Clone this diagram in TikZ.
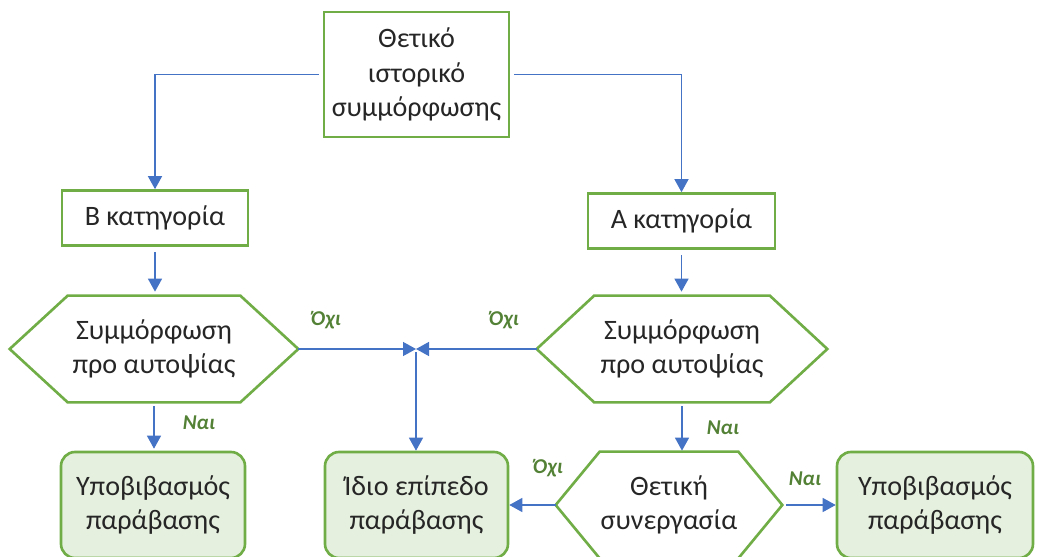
\documentclass[tikz,border=0pt]{standalone}
\usepackage{fontspec}
\setmainfont{Carlito}
\usetikzlibrary{arrows.meta}
\definecolor{frame}{HTML}{70AD47}
\definecolor{leaf}{HTML}{E5F0DE}
\definecolor{flow}{HTML}{4472C4}
\definecolor{answer}{HTML}{538135}
\definecolor{ink}{HTML}{262626}
\newcommand{\hexframe}[2]{%
  \draw[draw = frame, line width = 1.5pt, line join = miter]
    (#1.west) -- ([xshift = #2]#1.north west) -- ([xshift = -#2]#1.north east)
    -- (#1.east) -- ([xshift = -#2]#1.south east) -- ([xshift = #2]#1.south west) -- cycle;}
\begin{document}
\begin{tikzpicture}[x = 0.02cm, y = -0.02cm,
        textbox/.style = {text = ink, align = center, inner sep = 0pt,
            font = \fontsize{16}{19.6}\selectfont},
        box/.style = {textbox, draw = frame, line width = 1.5pt},
        leafbox/.style = {box, fill = leaf, rounded corners = 0.28cm,
            minimum height = 2.12cm},
        flowline/.style = {draw = flow, line width = 0.8pt,
            -{Triangle[width = 0.28cm, length = 0.26cm]}},
        reply/.style = {text = answer, inner sep = 0pt,
            font = \fontsize{12}{14}\selectfont\bfseries\itshape}]
    \useasboundingbox (0,0) rectangle (1038,557);
    % boxes
    \node[box, minimum width = 3.7cm, minimum height = 2.5cm] (history) at (416.5,74.5) {Θετικό\\ιστορικό\\συμμόρφωσης};
    \node[box, minimum width = 3.72cm, minimum height = 1.1cm] (catB) at (155,218) {Β κατηγορία};
    \node[box, minimum width = 3.74cm, minimum height = 1.1cm] (catA) at (681.5,221) {Α κατηγορία};
    \node[textbox, minimum width = 5.76cm, minimum height = 2.12cm] (checkL) at (154,349) {Συμμόρφωση\\προ αυτοψίας};
    \node[textbox, minimum width = 5.8cm, minimum height = 2.12cm] (checkR) at (682,349) {Συμμόρφωση\\προ αυτοψίας};
    \node[textbox, minimum width = 4.52cm, minimum height = 2.12cm] (coop) at (669,505) {Θετική\\συνεργασία};
    \hexframe{checkL}{1.16cm}
    \hexframe{checkR}{1.15cm}
    \hexframe{coop}{0.88cm}
    \node[leafbox, minimum width = 3.68cm] (demoteL) at (153,505) {Υποβιβασμός\\παράβασης};
    \node[leafbox, minimum width = 3.66cm] (same) at (416.5,505) {Ίδιο επίπεδο\\παράβασης};
    \node[leafbox, minimum width = 3.92cm] (demoteR) at (935,505) {Υποβιβασμός\\παράβασης};
    \coordinate (meet) at (416,349);
    % connectors
    \draw[flowline, shorten <= 0.08cm] (history.west) -| (catB.north);
    \draw[flowline, shorten <= 0.08cm] (history.east) -| (catA.north);
    \draw[flowline, shorten <= 0.1cm, shorten >= 0.08cm] (catB.south) -- (catB.south |- checkL.north);
    \draw[flowline, shorten <= 0.1cm, shorten >= 0.08cm] (catA.south) -- (catA.south |- checkR.north);
    \draw[flowline] (checkL.east) -- (meet);
    \draw[flowline] (checkR.west) -- (meet);
    \draw[flowline, shorten <= 0.06cm] (meet) -- (meet |- same.north);
    \draw[flowline, shorten <= 0.08cm, shorten >= 0.04cm] (checkL.south) -- (checkL.south |- demoteL.north);
    \draw[flowline, shorten <= 0.08cm, shorten >= 0.02cm] (checkR.south) -- (checkR.south |- coop.north);
    \draw[flowline] (coop.west) -- (same.east);
    \draw[flowline, shorten <= 0.08cm] (coop.east) -- (demoteR.west);
    % answers
    \node[reply] (noL) at (326,320) {Όχι};
    \node[reply] (noR) at (504,320) {Όχι};
    \node[reply] (yesL) at (199,423) {Ναι};
    \node[reply] (yesR) at (723,428) {Ναι};
    \node[reply] (noC) at (548,468) {Όχι};
    \node[reply] (yesC) at (805,479) {Ναι};
\end{tikzpicture}
\end{document}
